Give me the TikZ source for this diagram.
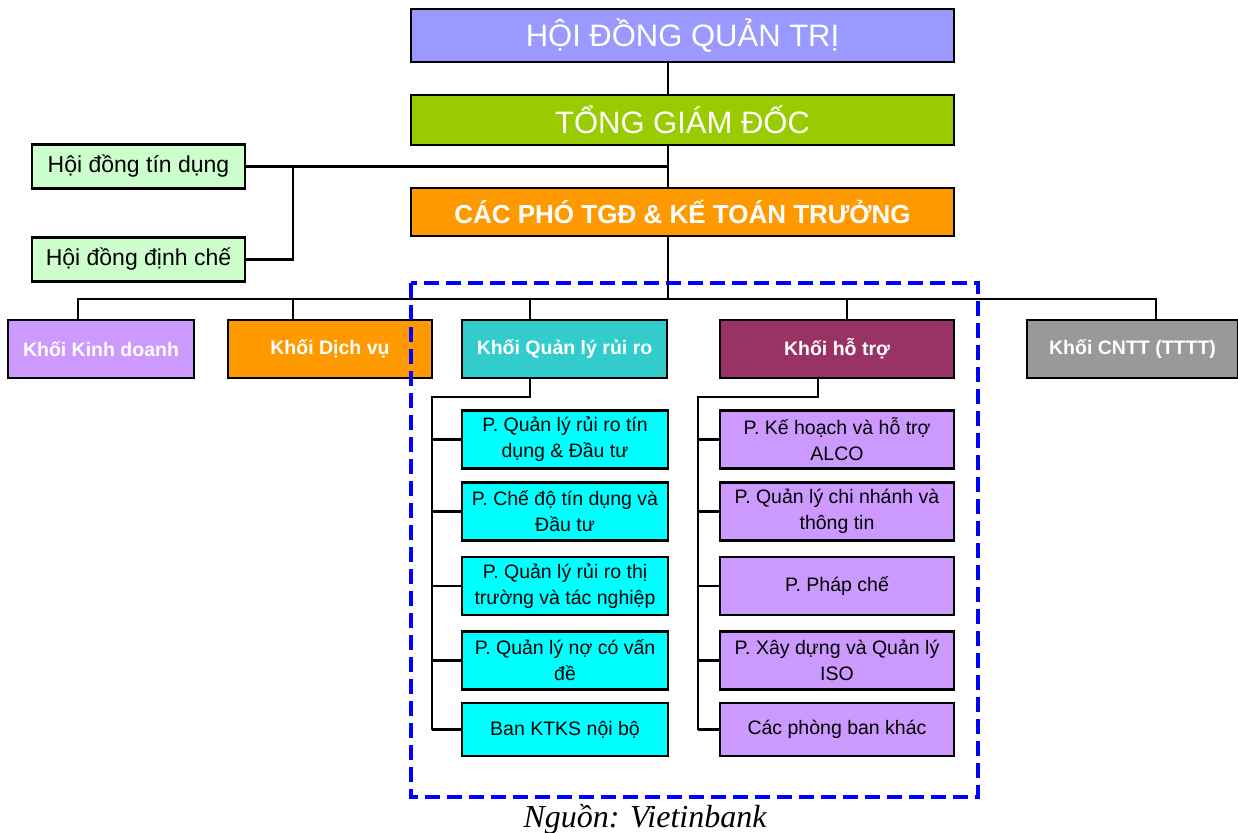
\documentclass[tikz,border=0pt]{standalone}
\usepackage{fontspec}
\setmainfont{Liberation Sans}
\newfontfamily\srcfont{Liberation Serif}
\usetikzlibrary{positioning,calc}
\definecolor{cHDQT}{HTML}{9999FF}
\definecolor{cTGD}{HTML}{99CC00}
\definecolor{cCam}{HTML}{FF9900}
\definecolor{cHD}{HTML}{CCFFCC}
\definecolor{cTim}{HTML}{CC99FF}
\definecolor{cQLRR}{HTML}{33CCCC}
\definecolor{cHoTro}{HTML}{993366}
\definecolor{cCNTT}{HTML}{999999}
\definecolor{cCyan}{HTML}{00FFFF}
\tikzset{
  orgbox/.style={draw=black, line width=2.8pt, inner sep=0pt, align=center},
  topbox/.style={orgbox, text=white, minimum width=543pt},
  hdbox/.style={orgbox, fill=cHD, minimum width=213pt, minimum height=44pt,
    font=\fontsize{23}{27}\selectfont},
  khoi/.style={orgbox, text=white, minimum height=58pt,
    font=\bfseries\fontsize{19.5}{24}\selectfont},
  phong/.style={orgbox, font=\fontsize{19.5}{26}\selectfont},
  link/.style={black, line width=2.3pt},
  frame/.style={draw=blue, line width=3.4pt, dash pattern=on 15pt off 7pt}
}
\begin{document}
\begin{tikzpicture}[x=1pt,y=-1pt]
\useasboundingbox (0,0) rectangle (1238,832);
\node[topbox, fill=cHDQT, minimum height=53pt, font=\fontsize{31}{36}\selectfont] (hdqt) at (682.5,35.5) {HỘI ĐỒNG QUẢN TRỊ};
\node[topbox, fill=cTGD, minimum height=50pt, font=\fontsize{31}{36}\selectfont] (tgd) at (682.5,120) {TỔNG GIÁM ĐỐC};
\node[topbox, fill=cCam, minimum height=48pt, font=\bfseries\fontsize{26}{30}\selectfont] (pho) at (682.5,212) {CÁC PHÓ TGĐ \& KẾ TOÁN TRƯỞNG};
\node[hdbox] (hdtd) at (138.5,166.5) {Hội đồng tín dụng};
\node[hdbox] (hddc) at (138.5,259.5) {Hội đồng định chế};
\node[khoi, fill=cTim, minimum width=186pt] (kd) at (101,349) {Khối Kinh doanh};
\node[khoi, fill=cCam, minimum width=204pt] (dv) at (330,349) {Khối Dịch vụ};
\node[khoi, fill=cQLRR, minimum width=205pt] (qlrr) at (564.5,349) {Khối Quản lý rủi ro};
\node[khoi, fill=cHoTro, minimum width=234pt] (ht) at (837,349) {Khối hỗ trợ};
\node[khoi, fill=cCNTT, minimum width=211pt] (cntt) at (1132.5,349) {Khối CNTT (TTTT)};
% cac phong ban
\foreach \i/\y/\h/\txt in {1/439.5/58/{P. Quản lý rủi ro tín\\dụng \& Đầu tư},
    2/511.5/58/{P. Chế độ tín dụng và\\Đầu tư},
    3/586/58/{P. Quản lý rủi ro thị\\trường và tác nghiệp},
    4/660.5/58/{P. Quản lý nợ có vấn\\đề},
    5/729.5/53/{Ban KTKS nội bộ}}
  \node[phong, fill=cCyan, minimum width=206pt, minimum height=\h pt] (rr\i) at (565,\y) {\txt};
\foreach \i/\y/\h/\txt in {1/439.5/58/{P. Kế hoạch và hỗ trợ\\ALCO},
    2/511.5/58/{P. Quản lý chi nhánh và\\thông tin},
    3/586/58/{P. Pháp chế},
    4/660.5/58/{P. Xây dựng và Quản lý\\ISO},
    5/729.5/53/{Các phòng ban khác}}
  \node[phong, fill=cTim, minimum width=234pt, minimum height=\h pt] (hs\i) at (837,\y) {\txt};
\coordinate (bus) at (668,299);
\coordinate (cjn) at (293,0);
\coordinate (rrbus) at (432,397);
\coordinate (htbus) at (698,397);
\draw[link] (hdqt.south -| bus) -- (tgd.north -| bus);
\draw[link] (tgd.south -| bus) -- (pho.north -| bus);
\draw[link] (pho.south -| bus) -- (bus);
\draw[link] (hdtd.east) -- (hdtd.east -| bus);
\draw[link] (hddc.east) -| (hdtd.east -| cjn);
\draw[link] ([xshift=-23pt]kd.north) |- (bus) -| ([xshift=23.5pt]cntt.north);
\foreach \n/\dx in {dv/-37, qlrr/-34.5, ht/10}
  \draw[link] ([xshift=\dx pt]\n.north) -- ++(0,-21);
\draw[link] ([xshift=-34.5pt]qlrr.south) |- (rrbus) -- (rrbus |- rr5.west);
\foreach \i in {1,...,5}
  \draw[link] (rrbus |- rr\i.west) -- (rr\i.west);
\draw[link] ([xshift=-19pt]ht.south) |- (htbus) -- (htbus |- hs5.west);
\foreach \i in {1,...,5}
  \draw[link] (htbus |- hs\i.west) -- (hs\i.west);
\draw[frame] (411,283) rectangle (978,797);
\node[font=\srcfont\itshape\fontsize{32}{36}\selectfont, anchor=base] (nguon) at (645,827) {Nguồn: Vietinbank};
\end{tikzpicture}
\end{document}
